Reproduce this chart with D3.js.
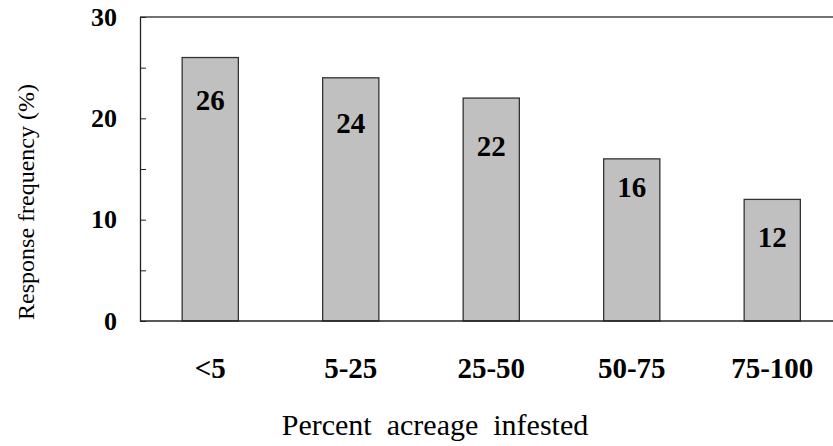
<!DOCTYPE html>
<html>
<head>
<meta charset="utf-8">
<script src="https://cdn.jsdelivr.net/npm/d3@7"></script>
<style>
  body { margin: 0; background: #fff; }
  text { font-family: "Liberation Serif", "Times New Roman", serif; }
</style>
</head>
<body>
<div id="chart"></div>
<script>
var w = 833;
var h = 446;

// data
var categories = ["<5", "5-25", "25-50", "50-75", "75-100"];
var frequency = [26, 24, 22, 16, 12];
var yTicks = [0, 5, 10, 15, 20, 25, 30];

// labels were hand-placed in the original, so each one sits a bit differently below its bar top
var labelDrop = [52, 55, 58, 38, 48];

var plotLeft = 140, plotTop = 17, plotBottom = 321;

var svg = d3.select("#chart")
            .append("svg")
            .attr("width", w)
            .attr("height", h);

var x = d3.scaleBand()
          .domain(categories)
          .range([plotLeft, 842.5])
          .paddingInner(0.6)
          .paddingOuter(0.3);

var y = d3.scaleLinear()
          .domain([0, 30])
          .range([plotBottom, plotTop]);

// top frame line
svg.append("line")
   .attr("x1", plotLeft).attr("x2", w)
   .attr("y1", y(30)).attr("y2", y(30))
   .attr("stroke", "#444")
   .attr("stroke-width", 1.5);

// bars
svg.append("g")
   .selectAll("rect")
   .data(frequency)
   .enter()
   .append("rect")
   .attr("x", function (d, i) {return x(categories[i]);})
   .attr("y", function (d) {return y(d);})
   .attr("width", x.bandwidth())
   .attr("height", function (d) {return y(0) - y(d);})
   .attr("fill", "#c0c0c0")
   .attr("stroke", "#333")
   .attr("stroke-width", 1.3);

// value labels inside bars
svg.append("g")
   .selectAll("text")
   .data(frequency)
   .enter()
   .append("text")
   .attr("x", function (d, i) {return x(categories[i]) + x.bandwidth() / 2;})
   .attr("y", function (d, i) {return y(d) + labelDrop[i];})
   .attr("text-anchor", "middle")
   .attr("font-size", 29)
   .attr("font-weight", "bold")
   .text(function (d) {return d;});

// y axis, ticks pointing inward
var yAxis = d3.axisLeft(y)
              .tickValues(yTicks)
              .tickSizeInner(-6)
              .tickSizeOuter(0)
              .tickPadding(23)
              .tickFormat(function (d) {return d % 10 === 0 ? d : "";});

var gy = svg.append("g")
            .attr("transform", "translate(" + plotLeft + ",0)")
            .call(yAxis);
gy.select(".domain").attr("stroke", "#222").attr("stroke-width", 1.3);
gy.selectAll(".tick line").attr("stroke", "#222");
gy.selectAll(".tick text")
  .attr("font-size", 26)
  .attr("font-weight", "bold")
  .attr("fill", "#000")
  .attr("font-family", "Liberation Serif");

// x axis
var xAxis = d3.axisBottom(x)
              .tickSize(0)
              .tickSizeOuter(0);

var gx = svg.append("g")
            .attr("transform", "translate(0," + plotBottom + ")")
            .call(xAxis);
gx.select(".domain")
  .attr("d", "M" + plotLeft + ",0H" + w)
  .attr("stroke", "#222")
  .attr("stroke-width", 1.3);
gx.selectAll(".tick text")
  .attr("y", 57)
  .attr("dy", null)
  .attr("font-size", 29)
  .attr("font-weight", "bold")
  .attr("fill", "#000")
  .attr("font-family", "Liberation Serif");

// axis titles
svg.append("text")
   .attr("x", 435)
   .attr("y", 435)
   .attr("text-anchor", "middle")
   .attr("font-size", 30)
   .attr("xml:space", "preserve")
   .style("white-space", "pre")
   .text("Percent  acreage  infested");

svg.append("text")
   .attr("transform", "translate(34,202) rotate(-90)")
   .attr("text-anchor", "middle")
   .attr("font-size", 24)
   .text("Response frequency (%)");
</script>
</body>
</html>
